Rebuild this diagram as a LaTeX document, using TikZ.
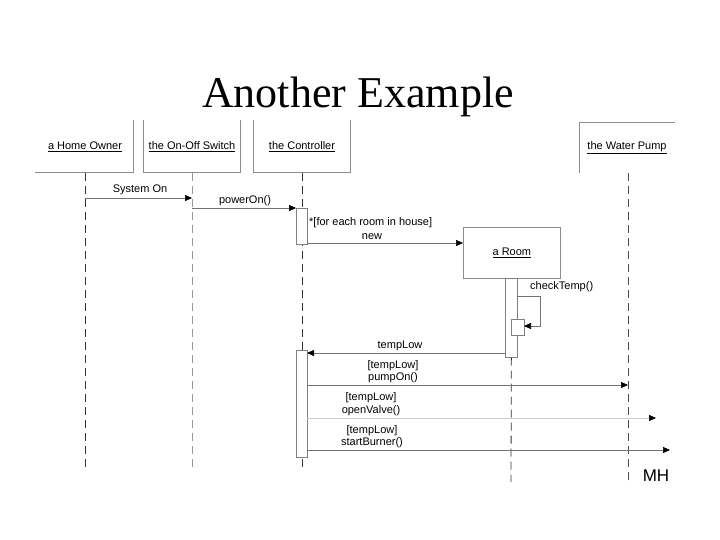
\documentclass[tikz,border=0pt]{standalone}
\usepackage{fontspec}
\setmainfont{Liberation Sans}
\newfontfamily\titlefont{Liberation Serif}
\usetikzlibrary{arrows.meta}
\begin{document}
\begin{tikzpicture}[x=1pt,y=-1pt,
 boxline/.style={draw=black!45, line width=0.7pt},
 life/.style={draw=black!80, line width=0.8pt, dash pattern=on 8pt off 5pt},
 msg/.style={draw=black!55, line width=0.7pt, -{Triangle[length=7pt,width=6pt,color=black]}},
 lbl/.style={font=\fontsize{11}{13}\selectfont, inner sep=0pt},
 act/.style={draw=black!50, fill=white, line width=0.7pt, inner sep=0pt, anchor=north west},
]
\useasboundingbox[fill=white] (0,0) rectangle (720,540);

\node[font=\titlefont\fontsize{44}{48}\selectfont, anchor=base] (title) at (358,108) {Another Example};

% object boxes (cut at the top)
\draw[boxline] (35,172) -- (133,172) -- (133,120);
\draw[boxline] (143,120) -- (143,172) -- (240,172) -- (240,120);
\draw[boxline] (253,120) -- (253,172) -- (350,172) -- (350,120);
\draw[boxline] (675,122) -- (579,122) -- (579,173);
\node[lbl] (owner) at (85,147) {\underline{a Home Owner}};
\node[lbl] (switch) at (192,147) {\underline{the On-Off Switch}};
\node[lbl] (ctrl) at (302,147) {\underline{the Controller}};
\node[lbl] (pump) at (627,148) {\underline{the Water Pump}};

% lifelines
\coordinate (o1) at (85,173);  \coordinate (o2) at (85,470);
\coordinate (s1) at (192,173); \coordinate (s2) at (192,470);
\coordinate (c1) at (302,173); \coordinate (c2) at (302,470);
\coordinate (p1) at (628,173); \coordinate (p2) at (628,485);
\coordinate (r2) at (511,482);
\draw[life] (o1) -- (o2);
\draw[life, draw=black!40] (s1) -- (s2);
\draw[life] (c1) -- (c2);
\draw[life, draw=black!70] (p1) -- (p2);

% room object
\node[boxline, fill=white, minimum width=97pt, minimum height=51pt, anchor=north west, font=\fontsize{11}{13}\selectfont] (room) at (463,227) {\underline{a Room}};
\node[act, minimum width=12pt, minimum height=79pt] (ra) at (505,278) {};
\draw[life] (ra.south) -- (r2);
\node[act, minimum width=13pt, minimum height=16pt] (rb) at (511,319) {};

% controller activations
\node[act, minimum width=11pt, minimum height=36pt] (a1) at (296,208) {};
\node[act, minimum width=11pt, minimum height=107pt] (a2) at (296,350) {};

% messages
\coordinate (m1a) at (85,198);  \coordinate (m1b) at (192,198);
\draw[msg] (m1a) -- (m1b);
\node[lbl] (l1) at (140,190) {System On};

\coordinate (m2a) at (192,208);
\draw[msg] (m2a) -- (a1.north west);
\node[lbl] (l2) at (245,201) {powerOn()};

\coordinate (m3a) at (307,243); \coordinate (m3b) at (463,243);
\draw[msg] (m3a) -- (m3b);
\node[lbl, anchor=west] (l3a) at (309,223) {*[for each room in house]};
\node[lbl] (l3b) at (372,237) {new};

\coordinate (m4a) at (517,296); \coordinate (m4b) at (540,296);
\coordinate (m4c) at (540,326); \coordinate (m4d) at (524,326);
\draw[msg] (m4a) -- (m4b) -- (m4c) -- (m4d);
\node[lbl, anchor=west] (l4) at (530,287) {checkTemp()};

\coordinate (m5a) at (505,353); \coordinate (m5b) at (307,353);
\draw[msg] (m5a) -- (m5b);
\node[lbl] (l5) at (400,346) {tempLow};

\coordinate (m6a) at (307,385); \coordinate (m6b) at (628,385);
\draw[msg] (m6a) -- (m6b);
\node[lbl] (l6a) at (393,366) {[tempLow]};
\node[lbl] (l6b) at (393,378) {pumpOn()};

\coordinate (m7a) at (307,418); \coordinate (m7b) at (656,418);
\draw[msg, draw=black!20] (m7a) -- (m7b);
\node[lbl] (l7a) at (371,398) {[tempLow]};
\node[lbl] (l7b) at (371,411) {openValve()};

\coordinate (m8a) at (307,450); \coordinate (m8b) at (670,450);
\draw[msg] (m8a) -- (m8b);
\node[lbl] (l8a) at (372,431) {[tempLow]};
\node[lbl] (l8b) at (372,443) {startBurner()};

\node[font=\fontsize{17}{20}\selectfont, inner sep=0pt] (mh) at (656,476) {MH};
\end{tikzpicture}
\end{document}
